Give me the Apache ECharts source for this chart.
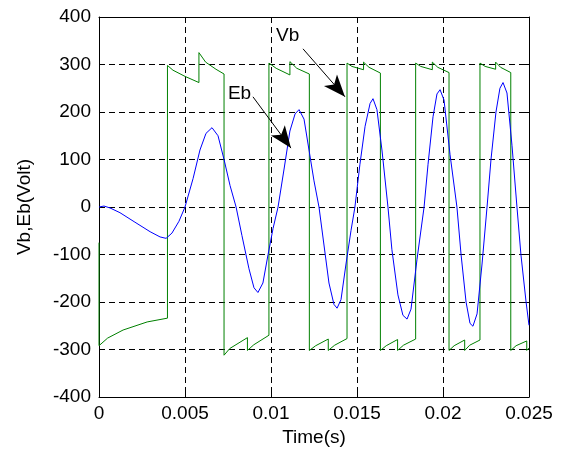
<!DOCTYPE html>
<html>
<head>
<meta charset="utf-8">
<script src="https://cdn.jsdelivr.net/npm/echarts@6/dist/echarts.min.js"></script>
<style>
html,body{margin:0;padding:0;background:#fff;}
#c{width:564px;height:452px;}
</style>
</head>
<body>
<div id="c"></div>
<script>
// ---- data ----
const xTicks = [0, 0.005, 0.01, 0.015, 0.02, 0.025];
const yTicks = [-400, -300, -200, -100, 0, 100, 200, 300, 400];

// Vb (green) square-wave voltage
const vbTime = [
  0, 0, 0.00050, 0.00140, 0.00280, 0.00398,
  0.00398, 0.00430, 0.00500, 0.00581, 0.00581, 0.00620, 0.00680, 0.00727,
  0.00727, 0.00760, 0.00863, 0.00863, 0.00900, 0.00988,
  0.00988, 0.01030, 0.01110, 0.01110, 0.01150, 0.01223,
  0.01223, 0.01260, 0.01333, 0.01333, 0.01370, 0.01442,
  0.01442, 0.01470, 0.01538, 0.01538, 0.01570, 0.01636,
  0.01636, 0.01670, 0.01736, 0.01736, 0.01770, 0.01841,
  0.01841, 0.01870, 0.01938, 0.01938, 0.01970, 0.02035,
  0.02035, 0.02065, 0.02126, 0.02126, 0.02155, 0.02215,
  0.02215, 0.02245, 0.02306, 0.02306, 0.02335, 0.02394,
  0.02394, 0.02425, 0.02487, 0.02487, 0.02500
];
const vbVolt = [
  -75, -292, -276, -259, -242, -234,
  298, 288, 275, 262, 325, 305, 290, 280,
  -312, -298, -275, -302, -290, -270,
  303, 292, 278, 306, 292, 280,
  -302, -292, -278, -302, -291, -277,
  303, 296, 289, 305, 294, 282,
  -302, -292, -279, -302, -291, -278,
  303, 296, 289, 305, 294, 283,
  -302, -292, -280, -302, -291, -280,
  303, 296, 290, 305, 294, 283,
  -302, -292, -282, -302, -297
];

// Eb (blue) back-EMF
const ebTime = [
  0, 0.00029, 0.00064, 0.00122, 0.00209, 0.00297, 0.00355, 0.00390, 0.00424, 0.00465,
  0.00500, 0.00547, 0.00587, 0.00622, 0.00657, 0.00692, 0.00727, 0.00762, 0.00797,
  0.00831, 0.00872, 0.00901, 0.00924, 0.00953, 0.00983, 0.01012, 0.01041,
  0.01076, 0.01110, 0.01140, 0.01163, 0.01192, 0.01221, 0.01250, 0.01279,
  0.01308, 0.01337, 0.01366, 0.01384, 0.01407, 0.01436, 0.01465, 0.01488,
  0.01517, 0.01547, 0.01576, 0.01593, 0.01616, 0.01645, 0.01680,
  0.01703, 0.01738, 0.01767, 0.01791, 0.01814, 0.01849, 0.01890,
  0.01913, 0.01942, 0.01965, 0.01983, 0.02006, 0.02041, 0.02081,
  0.02105, 0.02134, 0.02157, 0.02174, 0.02198, 0.02227, 0.02256,
  0.02279, 0.02308, 0.02331, 0.02349, 0.02372, 0.02401, 0.02430,
  0.02453, 0.02483, 0.02500
];
const ebVolt = [
  0, 2, -2, -12, -32, -52, -63, -66, -55, -30,
  0, 60, 120, 155, 167, 150, 100, 45, 0,
  -60, -130, -170, -180, -160, -100, -45, 0,
  80, 160, 196, 205, 185, 120, 55, 0,
  -80, -160, -205, -213, -195, -120, -50, 0,
  90, 170, 218, 228, 205, 120, 0,
  -90, -185, -228, -236, -215, -110, 0,
  90, 190, 238, 247, 225, 110, 0,
  -100, -200, -245, -251, -225, -120, 0,
  100, 200, 250, 262, 240, 130, 0,
  -100, -200, -249
];

// annotation labels and arrow (start, tip) in data units
const annNames = ['Eb', 'Vb'];
const annStart = [[0.00895, 232], [0.01186, 333]];
const annTip = [[0.01116, 124], [0.01430, 232]];
const annText = [[0.00817, 239], [0.01097, 361]];

const zip = (a, b) => a.map((v, i) => [v, b[i]]);

const FONT = 'Liberation Sans, Arial, sans-serif';
const dashed = { show: true, lineStyle: { color: '#000', type: [6, 4], width: 1 } };
const tick = { show: true, inside: true, length: 5, lineStyle: { color: '#000' } };
const axLine = { show: true, onZero: false, lineStyle: { color: '#000', width: 1 } };
const lbl = { color: '#000', fontSize: 19, fontFamily: FONT };

const chart = echarts.init(document.getElementById('c'), null, { renderer: 'canvas' });
chart.setOption({
  animation: false,
  backgroundColor: '#fff',
  grid: { left: 99, right: 35, top: 17, bottom: 55, containLabel: false },
  xAxis: [
    {
      type: 'value', min: xTicks[0], max: xTicks[xTicks.length - 1], interval: 0.005,
      position: 'bottom', axisLine: axLine, axisTick: tick, splitLine: dashed,
      axisLabel: Object.assign({ margin: 7, formatter: v => String(+v.toFixed(4)) }, lbl),
      name: 'Time(s)', nameLocation: 'middle', nameGap: 30,
      nameTextStyle: { color: '#000', fontSize: 19, fontFamily: FONT }
    },
    {
      type: 'value', min: xTicks[0], max: xTicks[xTicks.length - 1], interval: 0.005,
      position: 'top', axisLine: axLine, axisTick: tick, splitLine: { show: false },
      axisLabel: { show: false }
    }
  ],
  yAxis: [
    {
      type: 'value', min: yTicks[0], max: yTicks[yTicks.length - 1], interval: 100,
      position: 'left', axisLine: axLine, axisTick: tick, splitLine: dashed,
      axisLabel: Object.assign({ margin: 8 }, lbl),
      name: 'Vb,Eb(Volt)', nameLocation: 'middle', nameGap: 65, nameRotate: 90,
      nameTextStyle: { color: '#000', fontSize: 19, fontFamily: FONT }
    },
    {
      type: 'value', min: yTicks[0], max: yTicks[yTicks.length - 1], interval: 100,
      position: 'right', axisLine: axLine, axisTick: tick, splitLine: { show: false },
      axisLabel: { show: false }
    }
  ],
  series: [
    {
      name: 'Vb', type: 'line', data: zip(vbTime, vbVolt), showSymbol: false, symbol: 'none',
      lineStyle: { color: 'rgb(0,128,0)', width: 1 }, itemStyle: { color: 'rgb(0,128,0)' },
      silent: true
    },
    {
      name: 'Eb', type: 'line', data: zip(ebTime, ebVolt), showSymbol: false, symbol: 'none',
      smooth: false,
      lineStyle: { color: 'rgb(0,0,255)', width: 1 }, itemStyle: { color: 'rgb(0,0,255)' },
      silent: true,
      markLine: {
        silent: true, animation: false,
        symbol: ['none', 'arrow'], symbolSize: [13, 22],
        lineStyle: { color: '#000', width: 1, type: 'solid' },
        label: { show: false },
        data: annNames.map((n, i) => [
          { coord: annStart[i] },
          { coord: annTip[i] }
        ])
      },
      markPoint: {
        silent: true, animation: false, symbol: 'circle', symbolSize: 2,
        itemStyle: { color: 'rgba(0,0,0,0)' },
        label: { show: true, position: 'inside', color: '#000', fontSize: 19, fontFamily: FONT, formatter: p => p.name },
        data: annNames.map((n, i) => ({ name: n, coord: annText[i] }))
      }
    }
  ]
});
</script>
</body>
</html>
